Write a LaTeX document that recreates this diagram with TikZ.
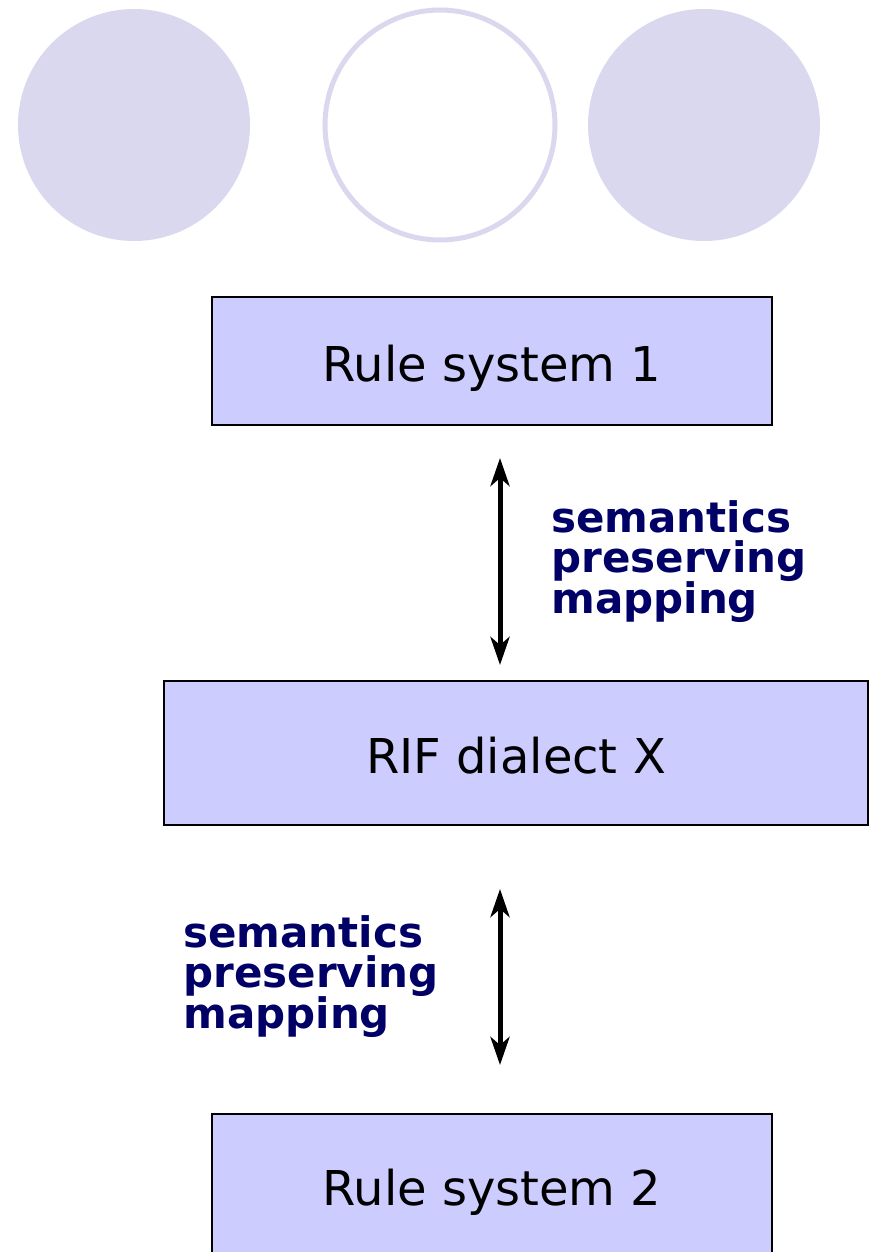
\documentclass[tikz,border=0pt]{standalone}
\usepackage{fontspec}
\setmainfont{DejaVu Sans}
\usetikzlibrary{arrows.meta}

\definecolor{boxblue}{RGB}{204,204,255}
\definecolor{lavender}{RGB}{218,216,238}
\definecolor{labelnavy}{RGB}{0,0,102}

\begin{document}
\begin{tikzpicture}[x=0.5pt, y=-0.5pt,
  rulebox/.style={draw, line width=1pt, fill=boxblue, inner sep=0pt,
    text height=20pt, text depth=0pt, font=\fontsize{24}{28}\selectfont},
  maplabel/.style={anchor=north west, align=left, inner sep=0pt, text=labelnavy,
    font=\fontsize{21}{20.25}\selectfont\bfseries\setlength{\lineskiplimit}{-100pt}},
  maparrow/.style={line width=2.5pt,
    {Stealth[length=14pt, width=9.5pt, inset=4pt]}-{Stealth[length=14pt, width=9.5pt, inset=4pt]}}
]
\useasboundingbox (0, 0) rectangle (869, 1252);

% three circles along the top
\path (134, 125) node[circle, fill=lavender, minimum size=116pt, inner sep=0pt] (dot_left) {};
\path (440, 125) node[circle, draw=lavender, line width=2.5pt, minimum size=115pt, inner sep=0pt] (dot_mid) {};
\path (704, 125) node[circle, fill=lavender, minimum size=116pt, inner sep=0pt] (dot_right) {};

% the three levels
\path (492, 361) node[rulebox, minimum width=280pt, minimum height=64pt] (rule_sys_1) {Rule system 1};
\path (516, 753) node[rulebox, minimum width=352pt, minimum height=72pt] (rif_dialect) {RIF dialect X};
\path (492, 1113) node[rulebox, anchor=north, minimum width=280pt, minimum height=71pt] (rule_sys_2) {Rule system 2};

% arrow end points
\coordinate (map_up_top) at (500, 458);
\coordinate (map_up_bot) at (500, 665);
\coordinate (map_low_top) at (500, 889);
\coordinate (map_low_bot) at (500, 1065);

\draw[maparrow] (map_up_top) -- (map_up_bot);
\draw[maparrow] (map_low_top) -- (map_low_bot);

% labels next to the mappings
\path (551, 500) node[maplabel] (map_up_label) {semantics\\preserving\\mapping};
\path (183, 915) node[maplabel] (map_low_label) {semantics\\preserving\\mapping};
\end{tikzpicture}
\end{document}
